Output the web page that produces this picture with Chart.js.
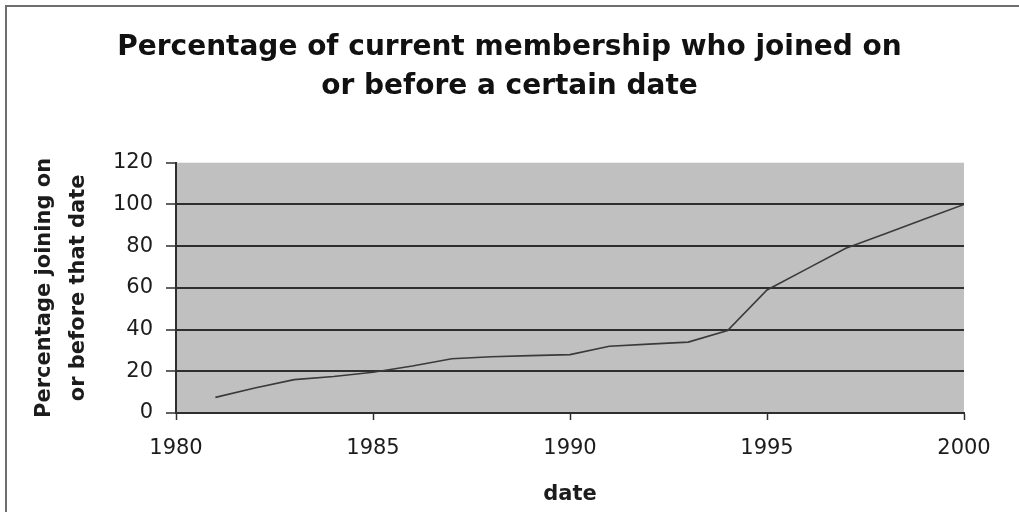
<!DOCTYPE html>
<html>
<head>
<meta charset="utf-8">
<title>Membership joining dates</title>
<script src="https://cdn.jsdelivr.net/npm/chart.js@4.4.1/dist/chart.umd.min.js"></script>
<style>
  html, body { margin: 0; padding: 0; background: #ffffff; }
  #wrap { width: 1019px; height: 512px; }
  canvas { display: block; }
</style>
</head>
<body>
<div id="wrap"><canvas id="chart" width="1019" height="512"></canvas></div>
<script>
// Cumulative share of current members who joined on or before each year
const years = [1981, 1982, 1983, 1984, 1985, 1986, 1987, 1988, 1989, 1990,
               1991, 1992, 1993, 1994, 1995, 1996, 1997, 1998, 1999, 2000];
const percentJoined = [7.5, 12, 16, 17.5, 19.5, 22.5, 26, 27, 27.5, 28,
                       32, 33, 34, 39.5, 59, 69, 79, 86, 93, 100];

const xTickYears = [1980, 1985, 1990, 1995, 2000];
const yTickValues = [0, 20, 40, 60, 80, 100, 120];

const chartTitle = ['Percentage of current membership who joined on', 'or before a certain date'];
const yAxisTitle = ['Percentage joining on', 'or before that date'];
const xAxisTitle = 'date';

const FONT = "'DejaVu Sans', 'Liberation Sans', Arial, sans-serif";
const INK = '#1c1c1c';
const RULE = '#2e2e2e';

// Paints the white page, the grey plot panel and the frame edges
const panelPlugin = {
  id: 'panel',
  beforeDraw(chart) {
    const { ctx, chartArea: a, width, height } = chart;
    ctx.save();
    ctx.fillStyle = '#ffffff';
    ctx.fillRect(0, 0, width, height);
    ctx.fillStyle = '#c0c0c0';
    ctx.fillRect(a.left, a.top, a.right - a.left, a.bottom - a.top);
    ctx.fillStyle = '#6e6e6e';
    ctx.fillRect(5, 5, width - 5, 2);
    ctx.fillRect(5, 5, 2, height - 5);
    ctx.restore();
  }
};

new Chart(document.getElementById('chart'), {
  type: 'line',
  data: {
    datasets: [{
      data: years.map((yr, i) => ({ x: yr, y: percentJoined[i] })),
      borderColor: '#3a3a3a',
      borderWidth: 1.6,
      pointRadius: 0,
      tension: 0,
      fill: false
    }]
  },
  options: {
    responsive: false,
    animation: false,
    devicePixelRatio: 1,
    layout: { padding: 0 },
    plugins: {
      legend: { display: false },
      tooltip: { enabled: false },
      title: {
        display: true,
        text: chartTitle,
        color: '#111111',
        font: { family: FONT, size: 28, weight: 'bold', lineHeight: 1.37 },
        padding: { top: 29, bottom: 57 }
      }
    },
    scales: {
      x: {
        type: 'linear',
        min: 1980,
        max: 2000,
        afterBuildTicks: s => { s.ticks = xTickYears.map(v => ({ value: v })); },
        afterFit: s => { s.height = 99; },
        grid: { drawOnChartArea: false, drawTicks: true, tickLength: 7, tickColor: RULE, tickWidth: 1.5 },
        border: { display: true, color: RULE, width: 2 },
        ticks: {
          color: INK,
          padding: 16,
          maxRotation: 0,
          font: { family: FONT, size: 21 },
          callback: v => String(v)
        },
        title: {
          display: true,
          text: xAxisTitle,
          color: INK,
          font: { family: FONT, size: 21, weight: 'bold', lineHeight: 1.2 },
          padding: { top: 0, bottom: 5 }
        }
      },
      y: {
        type: 'linear',
        min: 0,
        max: 120,
        afterBuildTicks: s => { s.ticks = yTickValues.map(v => ({ value: v })); },
        afterFit: s => { s.width = 176; },
        grid: {
          color: c => (c.tick && c.tick.value === 120 ? 'rgba(0,0,0,0)' : RULE),
          lineWidth: 2,
          tickLength: 10,
          tickColor: RULE,
          tickWidth: 1.5
        },
        border: { display: true, color: RULE, width: 2 },
        ticks: {
          color: INK,
          padding: 13,
          font: { family: FONT, size: 21 },
          callback: v => String(v)
        },
        title: {
          display: true,
          text: yAxisTitle,
          color: INK,
          font: { family: FONT, size: 21, weight: 'bold', lineHeight: 1.65 },
          padding: { top: 27, bottom: 0 }
        }
      },
      gutter: {
        type: 'linear',
        position: 'right',
        display: true,
        afterFit: s => { s.width = 55; },
        grid: { display: false },
        border: { display: false },
        ticks: { display: false }
      }
    }
  },
  plugins: [panelPlugin]
});
</script>
</body>
</html>
